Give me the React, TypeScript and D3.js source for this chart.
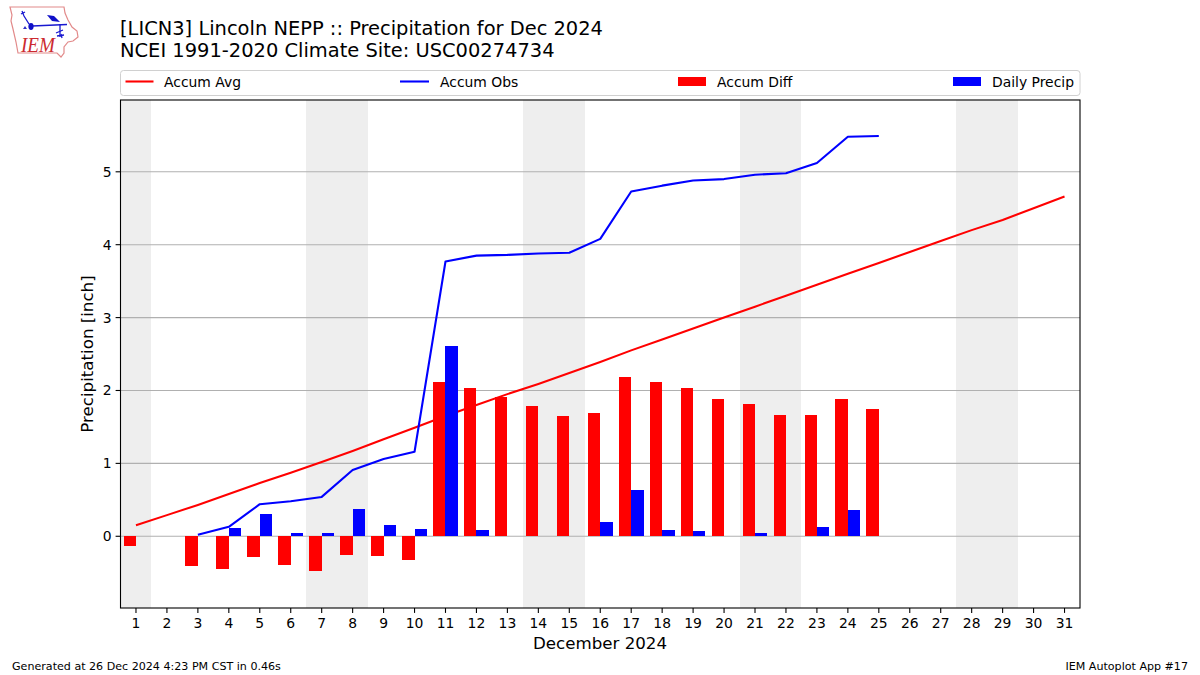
import React from "react";
import * as d3 from "d3";

const days = d3.range(1, 32);
const weekendDays = [1, 7, 8, 14, 15, 21, 22, 28, 29];
const yTicks = [0, 1, 2, 3, 4, 5];

const accumAvg = [0.15, 0.29, 0.43, 0.58, 0.73, 0.87, 1.02, 1.17, 1.33, 1.49, 1.65, 1.8, 1.95, 2.09, 2.24, 2.39, 2.55, 2.7, 2.85, 3.0, 3.15, 3.3, 3.45, 3.6, 3.75, 3.9, 4.05, 4.2, 4.34, 4.5, 4.66];
const accumObs: (number | null)[] = [null, null, 0.02, 0.13, 0.44, 0.48, 0.54, 0.91, 1.06, 1.16, 3.77, 3.85, 3.86, 3.88, 3.89, 4.08, 4.73, 4.81, 4.88, 4.9, 4.96, 4.98, 5.12, 5.48, 5.49];
const accumDiff: (number | null)[] = [-0.13, null, -0.41, -0.45, -0.28, -0.4, -0.48, -0.26, -0.27, -0.33, 2.11, 2.04, 1.91, 1.79, 1.65, 1.69, 2.18, 2.11, 2.03, 1.89, 1.81, 1.67, 1.66, 1.88, 1.74];
const dailyPrecip: (number | null)[] = [0.01, null, 0.01, 0.11, 0.3, 0.04, 0.05, 0.37, 0.15, 0.1, 2.61, 0.08, 0.01, 0.01, 0.01, 0.19, 0.64, 0.08, 0.07, 0.01, 0.05, 0.01, 0.13, 0.36, 0.01];

const FONT = "'DejaVu Sans', sans-serif";
const L = 120.5, R = 1080, T = 100, B = 608;
const BAR = 0.4;

const x = d3.scaleLinear().domain([0.5, 31.5]).range([L, R]);
const y = d3.scaleLinear().domain([-0.984, 5.985]).range([B, T]);

function Lines() {
  const line = d3
    .line<[number, number | null]>()
    .defined((d) => d[1] !== null)
    .x((d) => x(d[0]))
    .y((d) => y(d[1] as number));
  const avg = line(accumAvg.map((v, i) => [days[i], v] as [number, number]));
  const obs = line(accumObs.map((v, i) => [days[i], v] as [number, number | null]));
  return (
    <g fill="none" strokeWidth={2.08} strokeLinejoin="round">
      <path d={avg || ""} stroke="#ff0000" />
      <path d={obs || ""} stroke="#0000ff" />
    </g>
  );
}

function Bars({ values, offset, color }: { values: (number | null)[]; offset: number; color: string }) {
  return (
    <g fill={color} shapeRendering="crispEdges">
      {values.map((v, i) =>
        v === null ? null : (
          <rect
            key={i}
            x={x(days[i] + offset)}
            width={x(days[i] + offset + BAR) - x(days[i] + offset)}
            y={Math.min(y(0), y(v))}
            height={Math.abs(y(v) - y(0))}
          />
        )
      )}
    </g>
  );
}

function Logo() {
  return (
    <g>
      <path
        d="M10 7 L64 7 L65 13 L68 20 L72 27 L77 31 L78 37 L73 41 L68 42 L64 47 L64 53 L61 57 L57 53 L18 53 L16 42 L13 29 L11 21 L12 15 Z"
        fill="#fff"
        stroke="#e28a8a"
        strokeWidth={1.2}
      />
      <g stroke="#1818d0" fill="none" strokeWidth={1.3}>
        <path d="M32 26 L67 24.5" strokeWidth={1.6} />
        <path d="M22 11 L24 16 L29 24" />
        <path d="M21 14 L25 12" />
        <path d="M60 24 L60 37" />
        <path d="M56 33 L63 30 M57 36 L64 35" />
        <path d="M61 34 L62 38" />
      </g>
      <ellipse cx={31} cy={26.5} rx={2.6} ry={3.4} fill="#1010c8" />
      <path d="M47 15 L54 16 L60 22 L52 21 Z" fill="#1010c8" />
      <path d="M23 29 L25 26 L27 29 Z" fill="#3030c8" />
      <text x={21} y={52} fontFamily="'Liberation Serif', serif" fontStyle="italic" fontSize={20} fill="#cc2a30" textLength={34} lengthAdjust="spacingAndGlyphs">IEM</text>
    </g>
  );
}

function Legend() {
  const cy = 81.5;
  const labelStyle = { fontFamily: FONT, fontSize: 13.9, fill: "#000" };
  return (
    <g>
      <rect x={120.5} y={70.5} width={959.5} height={25} rx={3} fill="#fff" stroke="#d0d0d0" strokeWidth={1} />
      <line x1={125.5} x2={153.5} y1={cy} y2={cy} stroke="#ff0000" strokeWidth={2.08} />
      <text x={164} y={86.5} {...labelStyle}>Accum Avg</text>
      <line x1={400} x2={429} y1={cy} y2={cy} stroke="#0000ff" strokeWidth={2.08} />
      <text x={440} y={86.5} {...labelStyle}>Accum Obs</text>
      <rect x={678} y={77} width={28} height={9} fill="#ff0000" />
      <text x={717} y={86.5} {...labelStyle}>Accum Diff</text>
      <rect x={953} y={77} width={28} height={9} fill="#0000ff" />
      <text x={992} y={86.5} {...labelStyle}>Daily Precip</text>
    </g>
  );
}

export default function App() {
  const cyLabel = (T + B) / 2;
  return (
    <svg
      width={1200}
      height={675}
      viewBox="0 0 1200 675"
      style={{ position: "absolute", left: 0, top: 0, background: "#fff", display: "block" }}
    >
      <Logo />
      <text x={120} y={35} fontFamily={FONT} fontSize={19.44}>[LICN3] Lincoln NEPP :: Precipitation for Dec 2024</text>
      <text x={120} y={57} fontFamily={FONT} fontSize={19.44}>NCEI 1991-2020 Climate Site: USC00274734</text>
      <Legend />

      <g fill="#eeeeee" shapeRendering="crispEdges">
        {weekendDays.map((d) => (
          <rect key={d} x={x(d - 0.5)} width={x(d + 0.5) - x(d - 0.5)} y={T} height={B - T} />
        ))}
      </g>
      <g stroke="#b0b0b0" strokeWidth={1.1}>
        {yTicks.map((t) => (
          <line key={t} x1={L} x2={R} y1={y(t)} y2={y(t)} />
        ))}
      </g>
      <Lines />
      <Bars values={accumDiff} offset={-BAR} color="#ff0000" />
      <Bars values={dailyPrecip} offset={0} color="#0000ff" />
      <rect x={L} y={T} width={R - L} height={B - T} fill="none" stroke="#000" strokeWidth={1.1} />

      <g fontFamily={FONT} fontSize={13.9} fill="#000">
        {days.map((d) => (
          <g key={d}>
            <line x1={x(d)} x2={x(d)} y1={B} y2={B + 4.9} stroke="#000" strokeWidth={1.1} />
            <text x={x(d)} y={628} textAnchor="middle">{d}</text>
          </g>
        ))}
        {yTicks.map((t) => (
          <g key={t}>
            <line x1={L - 4.9} x2={L} y1={y(t)} y2={y(t)} stroke="#000" strokeWidth={1.1} />
            <text x={111.5} y={y(t) + 5} textAnchor="end">{t}</text>
          </g>
        ))}
      </g>

      <text x={600} y={649} textAnchor="middle" fontFamily={FONT} fontSize={16.67}>December 2024</text>
      <text
        transform={`translate(92.5,${cyLabel}) rotate(-90)`}
        textAnchor="middle"
        fontFamily={FONT}
        fontSize={16.67}
      >
        Precipitation [inch]
      </text>

      <text x={12} y={670} fontFamily={FONT} fontSize={11.1}>Generated at 26 Dec 2024 4:23 PM CST in 0.46s</text>
      <text x={1188} y={670} textAnchor="end" fontFamily={FONT} fontSize={11.1}>IEM Autoplot App #17</text>
    </svg>
  );
}
